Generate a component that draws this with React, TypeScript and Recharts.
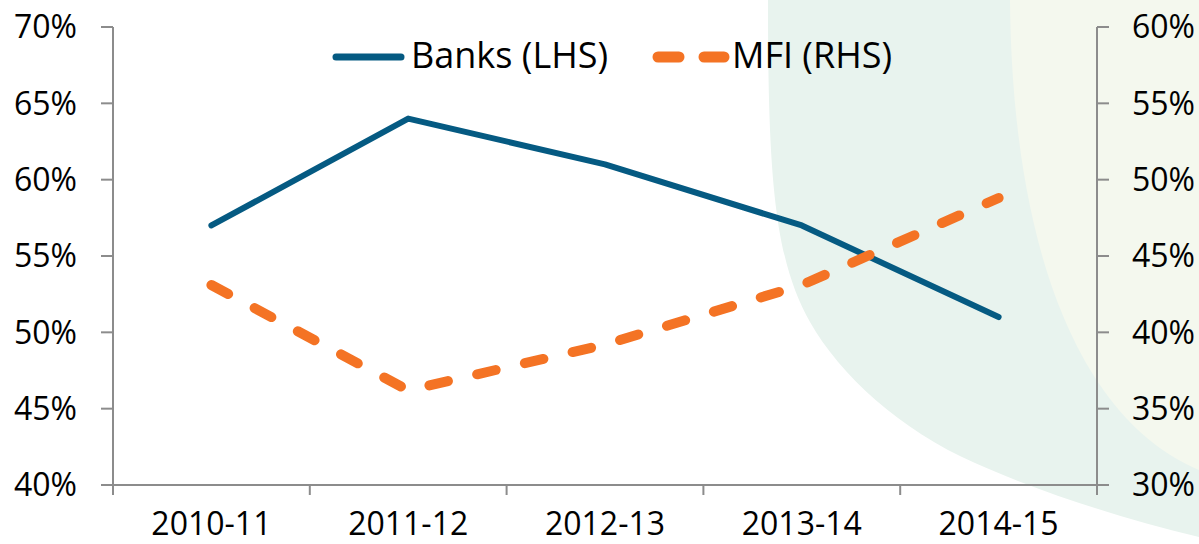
import React from "react";
import { LineChart, Line, XAxis, YAxis } from "recharts";

const years = ["2010-11", "2011-12", "2012-13", "2013-14", "2014-15"];
const banksLHS = [57, 64, 61, 57, 51];
const mfiRHS = [43.1, 36.2, 39.2, 43.1, 48.8];
const leftTicks = [40, 45, 50, 55, 60, 65, 70];
const rightTicks = [30, 35, 40, 45, 50, 55, 60];

const COLORS = {
  banks: "#055a82",
  mfi: "#f47324",
  axis: "#8c8c8c",
  wash: "#e8f3ee",
  washLight: "#f4f8ee",
};

const FONT = "'Open Sans', sans-serif";
const W = 1199;
const H = 544;

const data = years.map((y, i) => ({ year: y, banks: banksLHS[i], mfi: mfiRHS[i] }));

const tickStyle = { fill: "#000", fontSize: 32, fontFamily: FONT };

// category labels plus tick marks on the band boundaries (like Excel)
function YearTick(props: any) {
  const { x, y, payload, index, visibleTicksCount } = props;
  const off = payload.offset || 0;
  const last = index === visibleTicksCount - 1;
  return (
    <g>
      <line x1={x - off} y1={y - 1} x2={x - off} y2={y + 10} stroke={COLORS.axis} strokeWidth={2} />
      {last && <line x1={x + off} y1={y - 1} x2={x + off} y2={y + 10} stroke={COLORS.axis} strokeWidth={2} />}
      <text x={x} y={y + 50} textAnchor="middle" fill="#000" fontSize={32} fontFamily={FONT}>
        {payload.value}
      </text>
    </g>
  );
}

// pale watermark shape behind the right part of the chart
function Background() {
  return (
    <svg width={W} height={H} style={{ position: "absolute", left: 0, top: 0 }}>
      <path
        d="M768 0 C768 180 775 260 810 322 C840 375 900 430 975 463 C1040 492 1120 518 1199 537 L1199 0 Z"
        fill={COLORS.wash}
      />
      <path d="M1010 0 C1012 250 1080 420 1199 470 L1199 0 Z" fill={COLORS.washLight} />
    </svg>
  );
}

function ChartLegend() {
  return (
    <svg width={W} height={100} style={{ position: "absolute", left: 0, top: 0 }}>
      <line x1={336} y1={57} x2={401} y2={57} stroke={COLORS.banks} strokeWidth={7} strokeLinecap="round" />
      <text x={411} y={68} fontSize={36} fontFamily={FONT} fill="#000">Banks (LHS)</text>
      <line x1={658} y1={57} x2={679} y2={57} stroke={COLORS.mfi} strokeWidth={11} strokeLinecap="round" />
      <line x1={704} y1={57} x2={724} y2={57} stroke={COLORS.mfi} strokeWidth={11} strokeLinecap="round" />
      <text x={732} y={68} fontSize={36} fontFamily={FONT} fill="#000">MFI (RHS)</text>
    </svg>
  );
}

export default function App() {
  return (
    <div style={{ position: "absolute", left: 0, top: 0, width: W, height: H }}>
      <Background />
      <div style={{ position: "absolute", left: 0, top: 0 }}>
        <LineChart width={W} height={H} data={data} margin={{ top: 27, right: 0, bottom: 0, left: 0 }}>
          <XAxis
            dataKey="year"
            scale="band"
            height={59}
            tickLine={false}
            tickSize={0}
            tickMargin={0}
            tick={<YearTick />}
            interval={0}
            stroke={COLORS.axis}
            strokeWidth={2}
          />
          <YAxis
            yAxisId="left"
            width={113}
            domain={[40, 70]}
            ticks={leftTicks}
            tickFormatter={(v) => `${v}%`}
            tickSize={12}
            tickMargin={24}
            tick={tickStyle}
            stroke={COLORS.axis}
            strokeWidth={2}
          />
          <YAxis
            yAxisId="right"
            orientation="right"
            width={102}
            domain={[30, 60]}
            ticks={rightTicks}
            tickFormatter={(v) => `${v}%`}
            tickSize={12}
            tickMargin={23}
            tick={tickStyle}
            stroke={COLORS.axis}
            strokeWidth={2}
          />
          <Line
            yAxisId="left"
            dataKey="banks"
            stroke={COLORS.banks}
            strokeWidth={6}
            strokeLinecap="round"
            strokeLinejoin="round"
            dot={false}
            isAnimationActive={false}
          />
          <Line
            yAxisId="right"
            dataKey="mfi"
            stroke={COLORS.mfi}
            strokeWidth={10}
            strokeDasharray="19 30"
            strokeLinecap="round"
            strokeLinejoin="round"
            dot={false}
            isAnimationActive={false}
          />
        </LineChart>
      </div>
      <ChartLegend />
    </div>
  );
}
